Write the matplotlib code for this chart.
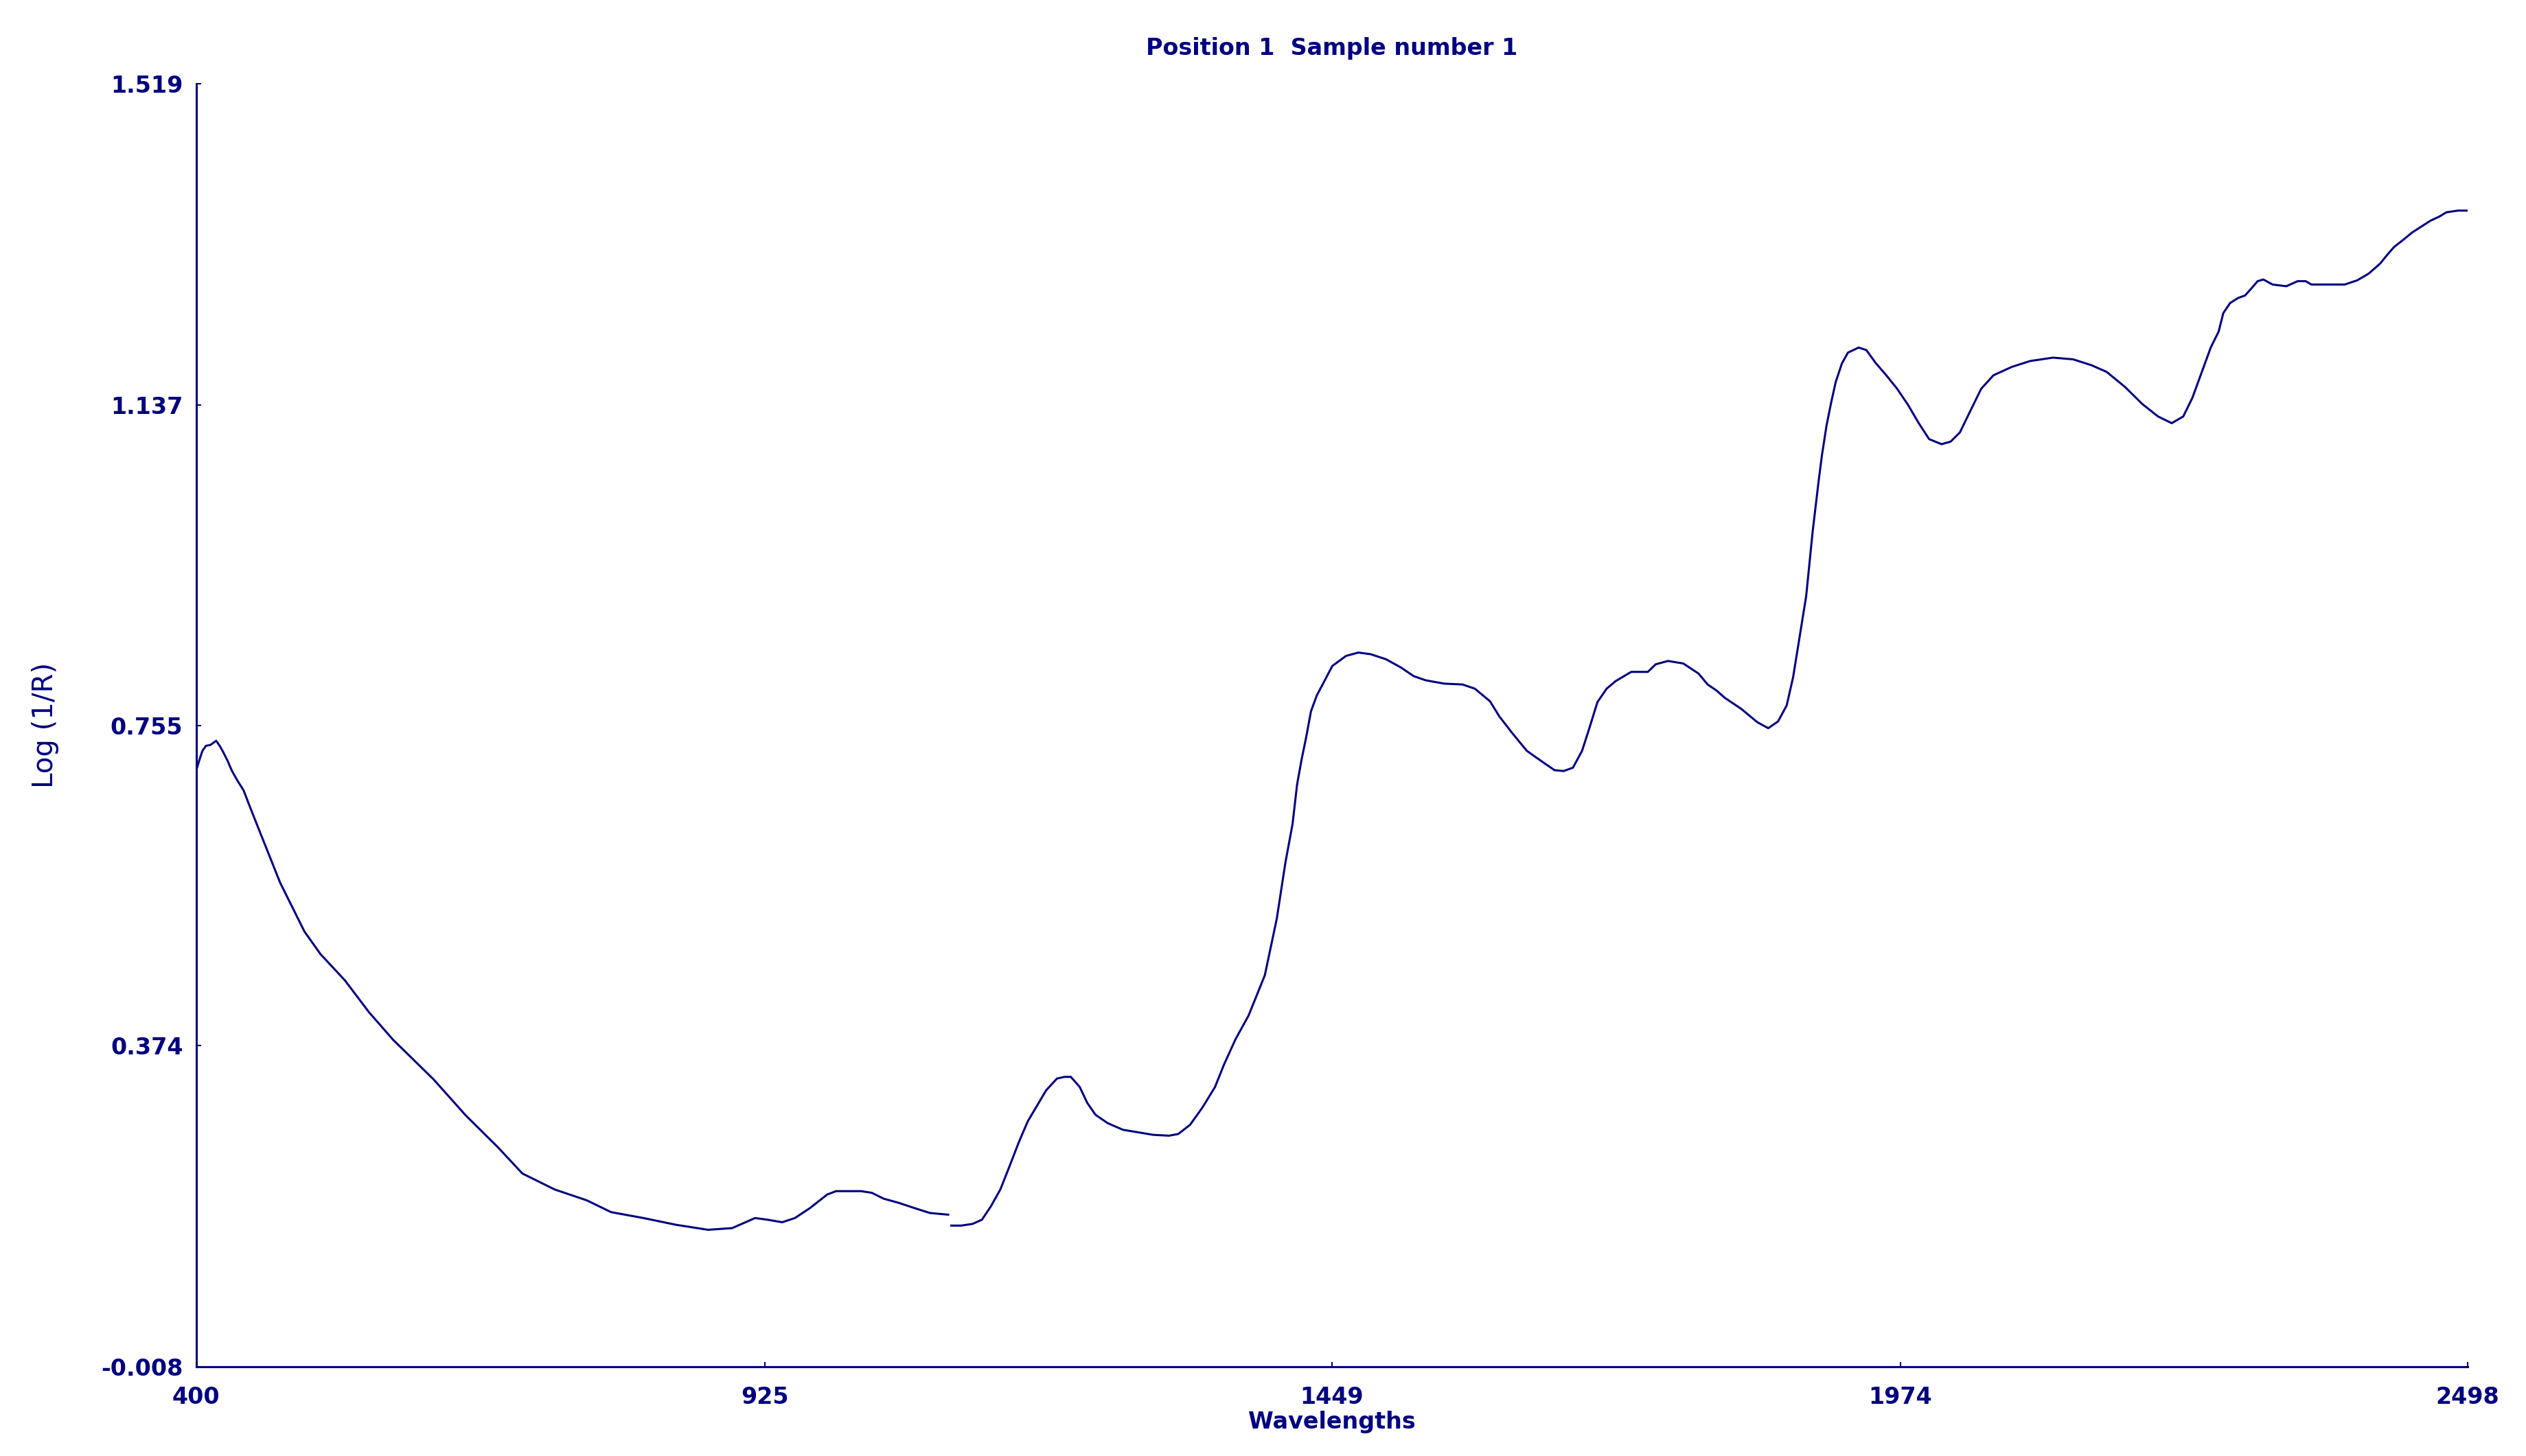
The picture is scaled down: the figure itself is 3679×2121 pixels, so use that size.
import matplotlib
matplotlib.use("Agg")
import matplotlib.pyplot as plt

NAVY = "#000080"

# spectrum, two detector segments (gap near 1096 nm)
wl_vis = [400.0, 403.6, 405.7, 408.9, 413.0, 418.4, 421.6, 424.7, 429.0, 433.0,
          438.3, 443.7, 450.0, 455.2, 477.5, 499.9, 514.8, 537.2, 559.5, 581.9,
          619.2, 649.0, 678.8, 701.2, 731.0, 760.8, 783.2, 813.0, 842.9, 872.7,
          895.0, 916.2, 927.6, 941.2, 953.0, 967.0, 982.8, 991.0, 1014.0, 1024.0,
          1035.0, 1049.0, 1063.0, 1077.6, 1094.5]
logr_vis = [0.702, 0.717, 0.725, 0.731, 0.732, 0.737, 0.731, 0.724, 0.713, 0.701,
            0.689, 0.678, 0.657, 0.640, 0.568, 0.510, 0.483, 0.452, 0.414, 0.381,
            0.334, 0.291, 0.253, 0.222, 0.203, 0.190, 0.176, 0.169, 0.161, 0.155,
            0.157, 0.169, 0.167, 0.164, 0.169, 0.181, 0.197, 0.201, 0.201, 0.199,
            0.192, 0.187, 0.181, 0.175, 0.173]

wl_nir = [1097.4, 1106.5, 1117.0, 1125.7, 1134.0, 1142.7, 1151.0, 1160.0, 1168.0, 1176.7,
          1185.0, 1195.0, 1202.0, 1207.8, 1216.0, 1223.0, 1230.5, 1241.7, 1256.0, 1270.0,
          1284.0, 1298.5, 1307.0, 1318.0, 1329.6, 1341.0, 1349.4, 1360.0, 1372.0, 1387.0,
          1398.0, 1406.0, 1412.6, 1416.8, 1421.0, 1425.3, 1429.6, 1435.0, 1442.0, 1449.3,
          1462.0, 1473.4, 1484.8, 1499.0, 1513.0, 1524.4, 1535.5, 1552.7, 1569.6, 1581.0,
          1595.0, 1603.6, 1615.0, 1629.0, 1643.3, 1654.6, 1663.0, 1671.6, 1680.0, 1687.0,
          1694.2, 1702.7, 1711.0, 1725.4, 1740.8, 1748.0, 1759.3, 1773.5, 1787.6, 1796.0,
          1804.0, 1812.0, 1827.0, 1842.0, 1852.0, 1861.0, 1869.0, 1875.0, 1881.0, 1887.0,
          1893.0, 1898.6, 1901.6, 1905.8, 1910.0, 1914.3, 1920.0, 1925.6, 1935.5, 1942.6,
          1951.0, 1961.0, 1971.0, 1981.0, 1991.0, 2000.6, 2012.0, 2020.4, 2029.0, 2037.3,
          2048.7, 2060.0, 2077.0, 2094.0, 2115.0, 2133.5, 2150.5, 2164.6, 2181.6, 2197.3,
          2212.0, 2224.7, 2235.3, 2243.7, 2252.2, 2260.7, 2268.0, 2272.3, 2278.6, 2286.0,
          2292.4, 2298.7, 2304.0, 2309.3, 2317.8, 2330.5, 2341.0, 2348.4, 2353.7, 2384.4,
          2396.0, 2406.6, 2417.2, 2423.5, 2429.9, 2438.3, 2446.8, 2455.2, 2463.7, 2472.0,
          2478.4, 2489.0, 2498.0]
logr_nir = [0.160, 0.160, 0.162, 0.167, 0.183, 0.203, 0.230, 0.260, 0.284, 0.303,
            0.321, 0.335, 0.337, 0.337, 0.325, 0.306, 0.292, 0.282, 0.274, 0.271,
            0.268, 0.267, 0.269, 0.280, 0.301, 0.325, 0.352, 0.382, 0.410, 0.458,
            0.525, 0.592, 0.638, 0.685, 0.715, 0.742, 0.772, 0.791, 0.808, 0.826,
            0.838, 0.842, 0.840, 0.834, 0.824, 0.814, 0.809, 0.805, 0.804, 0.799,
            0.784, 0.766, 0.747, 0.725, 0.712, 0.702, 0.701, 0.705, 0.725, 0.753,
            0.783, 0.799, 0.808, 0.819, 0.819, 0.828, 0.832, 0.829, 0.817, 0.804,
            0.797, 0.788, 0.775, 0.759, 0.752, 0.760, 0.779, 0.813, 0.861, 0.909,
            0.986, 1.047, 1.077, 1.112, 1.139, 1.164, 1.186, 1.199, 1.205, 1.202,
            1.187, 1.172, 1.156, 1.137, 1.115, 1.096, 1.090, 1.093, 1.104, 1.126,
            1.156, 1.172, 1.182, 1.189, 1.193, 1.191, 1.184, 1.176, 1.158, 1.138,
            1.123, 1.115, 1.123, 1.145, 1.175, 1.205, 1.224, 1.246, 1.258, 1.264,
            1.267, 1.276, 1.284, 1.286, 1.280, 1.278, 1.284, 1.284, 1.280, 1.280,
            1.285, 1.293, 1.305, 1.315, 1.3245, 1.333, 1.342, 1.349, 1.356, 1.361,
            1.366, 1.368, 1.368]

x_ticks = [400, 925, 1449, 1974, 2498]
y_ticks = [-0.008, 0.374, 0.755, 1.137, 1.519]

fig = plt.figure(figsize=(36.79, 21.21), dpi=100)
ax = fig.add_axes([0.0777, 0.0613, 0.8992, 0.8812])

ax.plot(wl_vis, logr_vis, color=NAVY, lw=2.2)
ax.plot(wl_nir, logr_nir, color=NAVY, lw=2.2)

ax.set_xlim(400, 2498)
ax.set_ylim(-0.008, 1.519)
ax.set_xticks(x_ticks)
ax.set_xticklabels([str(t) for t in x_ticks])
ax.set_yticks(y_ticks)
ax.set_yticklabels([f"{t:.3f}" for t in y_ticks])

for side in ["top", "right"]:
    ax.spines[side].set_visible(False)
for side in ["left", "bottom"]:
    ax.spines[side].set_color(NAVY)
    ax.spines[side].set_linewidth(2.2)

ax.tick_params(direction="in", length=5, width=1.5, colors=NAVY,
               labelsize=24, pad=14)
ax.tick_params(axis="x", pad=20)
for lbl in ax.get_xticklabels() + ax.get_yticklabels():
    lbl.set_fontweight("bold")

ax.set_title("Position 1  Sample number 1", color=NAVY, fontsize=24,
             fontweight="bold", pad=30)
ax.set_xlabel("Wavelengths", color=NAVY, fontsize=24, fontweight="bold", labelpad=2)
ax.set_ylabel("Log (1/R)", color=NAVY, fontsize=29, labelpad=44)

fig.savefig("out.png", dpi=100, facecolor="white")
